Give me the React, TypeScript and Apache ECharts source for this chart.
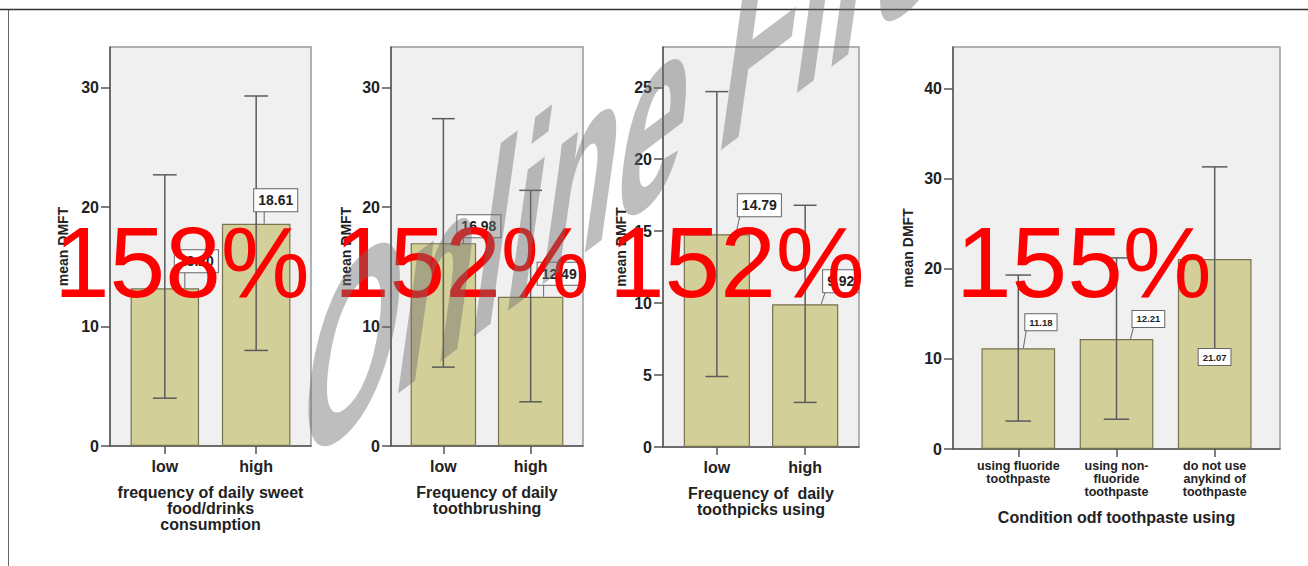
import React, { useEffect, useRef } from 'react';
import * as echarts from 'echarts';

// ---------------- data ----------------
const cats1 = ['low', 'high'];
const means1 = [13.2, 18.61];
const lower1 = [4.0, 8.0];
const upper1 = [22.7, 29.3];
const xName1 = 'frequency of daily sweet\nfood/drinks\nconsumption';

const cats2 = ['low', 'high'];
const means2 = [16.98, 12.49];
const lower2 = [6.6, 3.7];
const upper2 = [27.4, 21.4];
const xName2 = 'Frequency of daily\ntoothbrushing';

const cats3 = ['low', 'high'];
const means3 = [14.79, 9.92];
const lower3 = [4.9, 3.1];
const upper3 = [24.7, 16.8];
const xName3 = 'Frequency of  daily\ntoothpicks using';

const cats4 = ['using fluoride\ntoothpaste', 'using non-\nfluoride\ntoothpaste', 'do not use\nanykind of\ntoothpaste'];
const means4 = [11.18, 12.21, 21.07];
const lower4 = [3.1, 3.3, 10.9];
const upper4 = [19.3, 21.2, 31.3];
const xName4 = 'Condition odf toothpaste using';

const yMaxes = [33.4, 33.4, 27.8, 44.6];
const ySteps = [10, 10, 5, 10];
const yName = 'mean DMFT';
const overlayTexts = ['158%', '152%', '152%', '155%'];
const watermarkText = 'Online First';

// ---------------- layout / style ----------------
const grids = [
  { left: 110, top: 47, width: 201, height: 399 },
  { left: 391, top: 47, width: 192, height: 399 },
  { left: 663, top: 47, width: 196, height: 400 },
  { left: 953, top: 47, width: 327, height: 402 },
];
const xPads = [0.6, 0.6, 0.61, 0.665];
const yNameGaps = [40, 38, 35, 38];
const xNameGaps = [38, 38, 38, 60];
const catFont = [16, 16, 16, 12.5];
const catLineH = [16, 16, 16, 13];
const catMargin = [12, 12, 12, 10];
const valFont = [14, 14, 14, 9.5];
const valPad = [[4, 4], [4, 4], [4, 4], [3, 4]];
// [box left dx from bar centre, box bottom dy from bar top, leader top dx, leader bottom dx]
const labelLayouts = [
  [[10, -16, 10, 10], [-2, -12.5, 10, 10]],
  [[14, -6, 6, 6], [7, -12, 6, 6]],
  [[21, -18, 2, -2], [18, -12, 2, -2]],
  [[7, -18, 1, -2], [16, -12, 1, -2], [-16, 106, 0, 0]],
];
const overlayLeft = [54, 334, 609, 956];
const overlayMidY = 262;
// watermark: linear map per local px [m00, m01, m10, m11] and origin
const wmMatrix = [1.238, -0.376, -0.933, 2.673];
const wmOrigin = [293, 473];

const FONT = 'Liberation Sans';

function decompose(m00: number, m01: number, m10: number, m11: number) {
  const E = (m00 + m11) / 2, F = (m00 - m11) / 2, G = (m10 + m01) / 2, H = (m10 - m01) / 2;
  const Q = Math.hypot(E, H), R = Math.hypot(F, G);
  const a1 = Math.atan2(G, F), a2 = Math.atan2(H, E);
  return { sx: Q + R, sy: Q - R, theta: (a2 - a1) / 2, phi: (a2 + a1) / 2 };
}

function buildOption() {
  const panels = [
    { cats: cats1, means: means1, lower: lower1, upper: upper1, xName: xName1 },
    { cats: cats2, means: means2, lower: lower2, upper: upper2, xName: xName2 },
    { cats: cats3, means: means3, lower: lower3, upper: upper3, xName: xName3 },
    { cats: cats4, means: means4, lower: lower4, upper: upper4, xName: xName4 },
  ];
  const grid: any[] = [];
  const xAxis: any[] = [];
  const yAxis: any[] = [];
  const series: any[] = [];

  panels.forEach((p, i) => {
    const n = p.cats.length;
    const pos = p.cats.map((_, j) => j + 1);
    grid.push({
      ...grids[i],
      show: true,
      backgroundColor: '#f0f0f0',
      borderColor: '#9a9a9a',
      borderWidth: 1.5,
      containLabel: false,
      outerBoundsMode: 'none',
    });
    xAxis.push({
      type: 'value',
      gridIndex: i,
      min: 1 - xPads[i],
      max: n + xPads[i],
      splitLine: { show: false },
      axisLine: { show: true, onZero: false, lineStyle: { color: '#555', width: 1.5 } },
      axisTick: { show: true, customValues: pos, length: 8, inside: false, lineStyle: { color: '#555', width: 1.5 } },
      axisLabel: {
        customValues: pos,
        formatter: (v: number) => p.cats[Math.round(v) - 1] ?? '',
        fontFamily: FONT,
        fontSize: catFont[i],
        lineHeight: catLineH[i],
        fontWeight: 'bold',
        color: '#222',
        margin: catMargin[i],
      },
      name: p.xName,
      nameLocation: 'middle',
      nameGap: xNameGaps[i],
      nameMoveOverlap: false,
      nameTextStyle: { fontFamily: FONT, fontSize: 16, fontWeight: 'bold', color: '#222', lineHeight: 16 },
    });
    yAxis.push({
      type: 'value',
      gridIndex: i,
      min: 0,
      max: yMaxes[i],
      interval: ySteps[i],
      splitLine: { show: false },
      axisLine: { show: true, onZero: false, lineStyle: { color: '#555', width: 1.5 } },
      axisTick: { show: true, length: 9, inside: false, lineStyle: { color: '#555', width: 1.5 } },
      axisLabel: {
        fontFamily: FONT, fontSize: 16, fontWeight: 'bold', color: '#222', margin: 11,
        showMaxLabel: false,
      },
      name: yName,
      nameLocation: 'middle',
      nameRotate: 90,
      nameGap: yNameGaps[i],
      nameMoveOverlap: false,
      nameTextStyle: { fontFamily: FONT, fontSize: 14, fontWeight: 'bold', color: '#222' },
    });
    series.push({
      type: 'bar',
      xAxisIndex: i,
      yAxisIndex: i,
      barWidth: '75%',
      z: 2,
      itemStyle: { color: '#d3cf98', borderColor: '#77734f', borderWidth: 1.2 },
      data: p.means.map((v, j) => [j + 1, v]),
    });
    series.push({
      type: 'custom',
      xAxisIndex: i,
      yAxisIndex: i,
      z: 3,
      encode: { x: 0, y: [1, 2] },
      data: p.lower.map((lo, j) => [j + 1, lo, p.upper[j]]),
      renderItem: (params: any, api: any) => {
        const x = api.value(0);
        const lo = api.coord([x, api.value(1)]);
        const hi = api.coord([x, api.value(2)]);
        const half = api.size([1, 0])[0] * 0.13;
        const style = { stroke: '#5c5c5c', lineWidth: 1.5 };
        return {
          type: 'group',
          children: [
            { type: 'line', shape: { x1: lo[0], y1: lo[1], x2: hi[0], y2: hi[1] }, style },
            { type: 'line', shape: { x1: lo[0] - half, y1: lo[1], x2: lo[0] + half, y2: lo[1] }, style },
            { type: 'line', shape: { x1: hi[0] - half, y1: hi[1], x2: hi[0] + half, y2: hi[1] }, style },
          ],
        };
      },
    });
    series.push({
      type: 'custom',
      xAxisIndex: i,
      yAxisIndex: i,
      z: 4,
      encode: { x: 0, y: 1 },
      data: p.means.map((v, j) => [j + 1, v]),
      renderItem: (params: any, api: any) => {
        const x = api.value(0);
        const v = api.value(1);
        const top = api.coord([x, v]);
        const L = labelLayouts[i][params.dataIndex];
        const boxLeft = top[0] + L[0];
        const boxBottom = top[1] + L[1];
        const children: any[] = [];
        if (L[1] < 0) {
          children.push({
            type: 'line',
            shape: { x1: boxLeft + L[2], y1: boxBottom, x2: boxLeft + L[3], y2: top[1] },
            style: { stroke: '#666', lineWidth: 1 },
          });
        }
        children.push({
          type: 'text',
          x: boxLeft,
          y: boxBottom,
          style: {
            text: v.toFixed(2),
            x: 0,
            y: 0,
            align: 'left',
            verticalAlign: 'bottom',
            textAlign: 'left',
            textVerticalAlign: 'bottom',
            fill: '#222',
            fontFamily: FONT,
            fontSize: valFont[i],
            fontWeight: 'bold',
            backgroundColor: '#ffffff',
            borderColor: '#666',
            borderWidth: 1,
            padding: valPad[i],
          },
        });
        return { type: 'group', children };
      },
    });
  });

  const d = decompose(wmMatrix[0], wmMatrix[1], wmMatrix[2], wmMatrix[3]);
  const graphic: any[] = [
    { type: 'line', silent: true, shape: { x1: 0, y1: 9.5, x2: 1308, y2: 9.5 }, style: { stroke: '#333', lineWidth: 1.5 } },
    { type: 'line', silent: true, shape: { x1: 8.5, y1: 10, x2: 8.5, y2: 566 }, style: { stroke: '#666', lineWidth: 1 } },
  ];
  overlayTexts.forEach((t, i) => {
    graphic.push({
      type: 'text',
      silent: true,
      z: 100,
      x: overlayLeft[i],
      y: overlayMidY,
      style: {
        text: t, x: 0, y: 0,
        align: 'left', verticalAlign: 'middle', textAlign: 'left', textVerticalAlign: 'middle',
        fill: '#ff0000', fontFamily: FONT, fontSize: 100,
      },
    });
  });
  graphic.push({
    type: 'group',
    silent: true,
    z: 101,
    x: wmOrigin[0],
    y: wmOrigin[1],
    rotation: -d.phi,
    children: [
      {
        type: 'group',
        scaleX: d.sx,
        scaleY: d.sy,
        children: [
          {
            type: 'text',
            z: 101,
            rotation: -d.theta,
            style: {
              text: watermarkText, x: 0, y: -34.65,
              align: 'left', verticalAlign: 'middle', textAlign: 'left', textVerticalAlign: 'middle',
              fill: 'rgba(110,110,110,0.45)', fontFamily: FONT, fontSize: 100, fontWeight: 'bold',
            },
          },
        ],
      },
    ],
  });

  return {
    animation: false,
    backgroundColor: '#ffffff',
    textStyle: { fontFamily: FONT },
    grid,
    xAxis,
    yAxis,
    series,
    graphic,
  };
}

export default function App() {
  const ref = useRef<HTMLDivElement>(null);
  useEffect(() => {
    if (!ref.current) return;
    const chart = echarts.init(ref.current, null, { renderer: 'svg' });
    chart.setOption(buildOption() as any);
    return () => chart.dispose();
  }, []);
  return (
    <div
      ref={ref}
      style={{ position: 'absolute', left: 0, top: 0, width: 1308, height: 566, background: '#fff' }}
    />
  );
}
